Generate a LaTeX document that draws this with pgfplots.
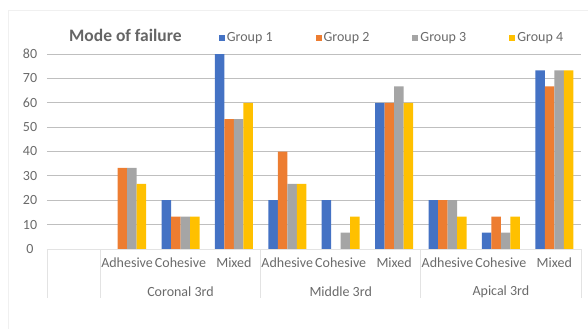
\documentclass[border=0pt]{standalone}
\usepackage{pgfplots}
\pgfplotsset{compat=1.18}
\usepackage{fontspec}
\setmainfont{Carlito}
\definecolor{gA}{HTML}{4472C4}
\definecolor{gB}{HTML}{ED7D31}
\definecolor{gC}{HTML}{A5A5A5}
\definecolor{gD}{HTML}{FFC000}
\definecolor{txt}{HTML}{6A6A6A}
\definecolor{grid}{HTML}{E3E3E3}
\begin{document}
\begin{tikzpicture}
\path[use as bounding box] (0,0) rectangle (588pt,329pt);
\draw[gray!12] (8pt,0pt) -- (8pt,319pt) -- (588pt,319pt);
\node[anchor=west, font=\fontsize{17.5}{20}\selectfont\bfseries, text=txt!95!black, inner sep=0pt] at (69pt,294pt) {Mode of failure};
\begin{axis}[
  at={(47pt,80pt)}, anchor=south west,
  scale only axis, width=534pt, height=195pt,
  ybar=0pt, bar width=9.5pt,
  xmin=-0.5, xmax=9.5, ymin=0, ymax=80,
  ytick={0,10,...,80},
  xtick={0,1,...,9},
  xticklabels={,Adhesive,Cohesive,Mixed,Adhesive,Cohesive,Mixed,Adhesive,Cohesive,Mixed},
  axis x line*=bottom, axis y line*=left,
  x axis line style={grid, line width=0.8pt, -},
  y axis line style={draw=none},
  xmajorgrids=false, ymajorgrids=true, grid style={grid, line width=0.8pt},
  major tick length=0pt,
  tick label style={font=\fontsize{14}{16}\selectfont, text=txt},
  yticklabel style={anchor=center, xshift=-17pt},
  xticklabel style={yshift=-5pt},
  /pgf/number format/assume math mode=true,
  legend columns=4,
  legend style={draw=none, fill=none, at={(0.646,1.082)}, anchor=center,
    font=\fontsize{14}{16}\selectfont, text=txt,
    /tikz/every even column/.append style={column sep=41pt}},
  legend image code/.code={\path[#1, draw=none] (0pt,-3pt) rectangle (6pt,3pt);},
  clip=false,
]
\addplot[fill=gA, draw=none] coordinates {(2,20) (3,80) (4,20) (5,20) (6,60) (7,20) (8,6.67) (9,73.33)};
\addplot[fill=gB, draw=none] coordinates {(1,33.33) (2,13.33) (3,53.33) (4,40) (6,60) (7,20) (8,13.33) (9,66.67)};
\addplot[fill=gC, draw=none] coordinates {(1,33.33) (2,13.33) (3,53.33) (4,26.67) (5,6.67) (6,66.67) (7,20) (8,6.67) (9,73.33)};
\addplot[fill=gD, draw=none] coordinates {(1,26.67) (2,13.33) (3,60) (4,26.67) (5,13.33) (6,60) (7,13.33) (8,13.33) (9,73.33)};
\legend{Group 1,Group 2,Group 3,Group 4}
\foreach \xx in {-0.5,0.5,3.5,6.5,9.5}{
  \edef\tmp{\noexpand\draw[grid, line width=0.8pt] (axis cs:\xx,0) -- ([yshift=-49pt]axis cs:\xx,0);}
  \tmp
}
\node[font=\fontsize{14}{16}\selectfont, text=txt] at ([yshift=-43pt]axis cs:2,0) {Coronal 3rd};
\node[font=\fontsize{14}{16}\selectfont, text=txt] at ([yshift=-43pt]axis cs:5,0) {Middle 3rd};
\node[font=\fontsize{14}{16}\selectfont, text=txt] at ([yshift=-43pt]axis cs:8,0) {Apical 3rd};
\end{axis}
\end{tikzpicture}
\end{document}
